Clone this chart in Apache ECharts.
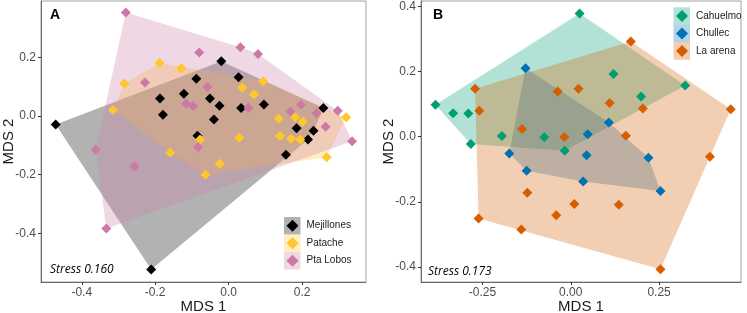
<!DOCTYPE html>
<html>
<head>
<meta charset="utf-8">
<script src="https://cdn.jsdelivr.net/npm/echarts@6/dist/echarts.min.js"></script>
<style>
html, body { margin: 0; padding: 0; background: #fff; }
#chart { width: 747px; height: 313px; }
</style>
</head>
<body>
<div id="chart"></div>
<script>
// panel A: MDS coordinates per site
var mejillones = [[-0.471,-0.029],[-0.211,-0.523],[-0.088,0.127],[-0.187,0.060],[-0.122,0.076],[-0.179,0.004],[-0.085,-0.067],[-0.020,0.187],[0.027,0.132],[-0.051,0.060],[-0.025,0.035],[-0.040,-0.012],[0.034,0.027],[0.096,0.039],[0.258,0.027],[0.185,-0.042],[0.231,-0.050],[0.216,-0.080],[0.156,-0.132]];
var patache = [[-0.188,0.181],[-0.129,0.163],[-0.284,0.111],[-0.315,0.020],[-0.159,-0.125],[-0.078,-0.080],[-0.063,-0.200],[-0.024,-0.163],[0.037,0.097],[0.094,0.118],[0.069,0.073],[0.029,-0.074],[0.136,-0.009],[0.181,-0.004],[0.202,-0.020],[0.140,-0.068],[0.170,-0.078],[0.195,-0.080],[0.320,-0.004],[0.267,-0.141]];
var ptaLobos = [[-0.280,0.353],[-0.080,0.216],[-0.228,0.114],[-0.116,0.042],[-0.097,0.034],[-0.362,-0.115],[-0.256,-0.172],[-0.333,-0.384],[-0.083,-0.107],[0.032,0.234],[0.080,0.211],[-0.058,0.099],[0.054,0.028],[0.168,0.015],[0.197,0.038],[0.239,0.009],[0.297,0.018],[0.264,-0.037],[0.336,-0.086]];

// panel B
var cahuelmo = [[-0.383,0.098],[-0.333,0.072],[-0.290,0.071],[-0.283,-0.023],[-0.195,0.002],[-0.075,-0.002],[-0.017,-0.043],[0.025,0.378],[0.121,0.192],[0.199,0.123],[0.324,0.157]];
var chullec = [[-0.128,0.210],[-0.174,-0.052],[-0.125,-0.105],[0.108,0.043],[0.048,0.007],[0.045,-0.057],[0.220,-0.065],[0.035,-0.138],[0.254,-0.167]];
var laArena = [[-0.271,0.147],[-0.259,0.079],[-0.037,0.138],[0.022,0.147],[-0.138,0.023],[-0.018,-0.001],[-0.123,-0.172],[-0.261,-0.251],[-0.140,-0.285],[-0.041,-0.241],[0.010,-0.207],[0.170,0.292],[0.110,0.103],[0.204,0.086],[0.453,0.084],[0.156,0.003],[0.394,-0.062],[0.136,-0.209],[0.254,-0.407]];

var namesA = ['Mejillones', 'Patache', 'Pta Lobos'];
var namesB = ['Cahuelmo', 'Chullec', 'La arena'];
var stressA = 'Stress 0.160';
var stressB = 'Stress 0.173';

var ticksAx = [-0.4, -0.2, 0, 0.2];
var ticksAy = [-0.4, -0.2, 0, 0.2];
var ticksBx = [-0.25, 0, 0.25];
var ticksBy = [-0.4, -0.2, 0, 0.2, 0.4];

var colorsA = ['#000000', '#FFC72C', '#CC79A7'];
var colorsB = ['#009E73', '#0072B2', '#D55E00'];

function rgba(hex, a) {
    var n = parseInt(hex.slice(1), 16);
    return 'rgba(' + (n >> 16) + ',' + ((n >> 8) & 255) + ',' + (n & 255) + ',' + a + ')';
}

// convex hull (monotone chain)
function hull(pts) {
    var p = pts.slice().sort(function(a, b) { return a[0] - b[0] || a[1] - b[1]; });
    function cross(o, a, b) { return (a[0] - o[0]) * (b[1] - o[1]) - (a[1] - o[1]) * (b[0] - o[0]); }
    var lower = [], upper = [], i;
    for (i = 0; i < p.length; i++) {
        while (lower.length >= 2 && cross(lower[lower.length - 2], lower[lower.length - 1], p[i]) <= 0) lower.pop();
        lower.push(p[i]);
    }
    for (i = p.length - 1; i >= 0; i--) {
        while (upper.length >= 2 && cross(upper[upper.length - 2], upper[upper.length - 1], p[i]) <= 0) upper.pop();
        upper.push(p[i]);
    }
    upper.pop();
    lower.pop();
    return lower.concat(upper);
}

function hullSeries(name, pts, color, idx) {
    var h = hull(pts);
    return {
        type: 'custom',
        name: name + ' hull',
        xAxisIndex: idx,
        yAxisIndex: idx,
        z: 1,
        silent: true,
        data: h,
        encode: { x: 0, y: 1 },
        renderItem: function(params, api) {
            if (params.dataIndex > 0) return;
            return {
                type: 'polygon',
                shape: { points: h.map(function(p) { return api.coord(p); }) },
                style: { fill: rgba(color, 0.3) }
            };
        }
    };
}

function pointSeries(name, pts, color, idx) {
    return {
        type: 'scatter',
        name: name,
        xAxisIndex: idx,
        yAxisIndex: idx,
        z: 3,
        symbol: 'diamond',
        symbolSize: 10,
        itemStyle: { color: color, opacity: 1 },
        data: pts
    };
}

function xAxis(idx, min, max, ticks, digits) {
    return {
        type: 'value', gridIndex: idx, min: min, max: max,
        name: 'MDS 1', nameLocation: 'middle', nameGap: 17, nameMoveOverlap: false,
        nameTextStyle: { fontSize: 15, color: '#1a1a1a' },
        axisLine: { onZero: false, lineStyle: { color: '#6b6b6b' } },
        axisTick: { customValues: ticks, length: 3, lineStyle: { color: '#333' } },
        axisLabel: { customValues: ticks, margin: 5, fontSize: 12, color: '#4d4d4d',
            formatter: function(v) { return v.toFixed(digits); } },
        splitLine: { show: false }
    };
}

function yAxis(idx, min, max, ticks, gap) {
    return {
        type: 'value', gridIndex: idx, min: min, max: max,
        name: 'MDS 2', nameLocation: 'middle', nameGap: gap, nameMoveOverlap: false,
        nameTextStyle: { fontSize: 15, color: '#1a1a1a' },
        axisLine: { onZero: false, lineStyle: { color: '#6b6b6b' } },
        axisTick: { customValues: ticks, length: 3, lineStyle: { color: '#333' } },
        axisLabel: { customValues: ticks, margin: 5, fontSize: 12, color: '#4d4d4d',
            formatter: function(v) { return v.toFixed(1); } },
        splitLine: { show: false }
    };
}

var dataA = [mejillones, patache, ptaLobos];
var dataB = [cahuelmo, chullec, laArena];
var series = [];
namesA.forEach(function(n, i) { series.push(hullSeries(n, dataA[i], colorsA[i], 0)); });
namesB.forEach(function(n, i) { series.push(hullSeries(n, dataB[i], colorsB[i], 1)); });
namesA.forEach(function(n, i) { series.push(pointSeries(n, dataA[i], colorsA[i], 0)); });
namesB.forEach(function(n, i) { series.push(pointSeries(n, dataB[i], colorsB[i], 1)); });

// legend key boxes behind the diamonds
var graphics = [];
function keyBoxes(x, y, colors) {
    colors.forEach(function(c, i) {
        graphics.push({ type: 'rect', z: 1, shape: { x: x, y: y + i * 17.5, width: 16.5, height: 17.5 },
            style: { fill: rgba(c, 0.3) } });
    });
}
keyBoxes(284, 217, colorsA);
keyBoxes(673.5, 7.3, colorsB);

function legend(names, left, top) {
    return {
        data: names, orient: 'vertical', left: left, top: top, padding: 0,
        icon: 'diamond', itemWidth: 12, itemHeight: 12, itemGap: 5.5,
        selectedMode: false, z: 5,
        textStyle: { fontSize: 10, color: '#1a1a1a', padding: [0, 0, 0, 3] }
    };
}

var chart = echarts.init(document.getElementById('chart'));
chart.setOption({
    animation: false,
    textStyle: { fontFamily: 'Liberation Sans' },
    grid: [
        { left: 41, top: 1, width: 325, height: 281, show: true, borderColor: '#a0a0a0', borderWidth: 1, containLabel: false, outerBoundsMode: 'none' },
        { left: 421, top: 1, width: 320, height: 281, show: true, borderColor: '#a0a0a0', borderWidth: 1, containLabel: false, outerBoundsMode: 'none' }
    ],
    xAxis: [
        xAxis(0, -0.511, 0.374, ticksAx, 1),
        xAxis(1, -0.424, 0.482, ticksBx, 2)
    ],
    yAxis: [
        yAxis(0, -0.566, 0.392, ticksAy, 25),
        yAxis(1, -0.446, 0.416, ticksBy, 25)
    ],
    title: [
        { text: 'A', left: 50, top: 8, padding: 0, textStyle: { fontSize: 14, fontWeight: 'bold', color: '#000' } },
        { text: 'B', left: 433, top: 8, padding: 0, textStyle: { fontSize: 14, fontWeight: 'bold', color: '#000' } },
        { text: stressA, left: 50, top: 264, padding: 0, textStyle: { fontSize: 12, fontStyle: 'italic', fontWeight: 'normal', fontFamily: 'Open Sans', color: '#000' } },
        { text: stressB, left: 428, top: 266, padding: 0, textStyle: { fontSize: 12, fontStyle: 'italic', fontWeight: 'normal', fontFamily: 'Open Sans', color: '#000' } }
    ],
    legend: [legend(namesA, 286.5, 219.7), legend(namesB, 676, 10)],
    graphic: graphics,
    series: series
});
</script>
</body>
</html>
